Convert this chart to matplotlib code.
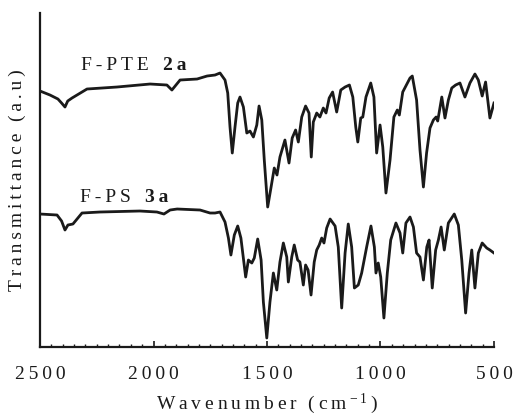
import matplotlib
matplotlib.use('Agg')
import matplotlib.pyplot as plt
from matplotlib.ticker import MultipleLocator, FuncFormatter

plt.rcParams['font.family'] = ['Liberation Serif', 'DejaVu Serif']
plt.rcParams['mathtext.fontset'] = 'custom'
plt.rcParams['mathtext.rm'] = 'Liberation Serif'
plt.rcParams['mathtext.it'] = 'Liberation Serif:italic'
plt.rcParams['mathtext.bf'] = 'Liberation Serif:bold'

SP = '\u2009'  # thin space, the original text is letter-spaced

# F-PTE 2a (upper trace), wavenumber (cm-1) and transmittance (a.u.)
pte_wn = [2500, 2456, 2421, 2405, 2390, 2378, 2359, 2293, 2161, 2015, 1941, 1919,
          1883, 1808, 1764, 1729, 1707, 1685, 1673, 1663, 1653, 1641, 1629, 1619,
          1604, 1589, 1575, 1560, 1545, 1535, 1523, 1512, 1497, 1482, 1468, 1456,
          1443, 1421, 1403, 1389, 1374, 1362, 1347, 1330, 1315, 1305, 1296, 1281,
          1267, 1252, 1240, 1226, 1211, 1193, 1175, 1156, 1137, 1122, 1109, 1100,
          1087, 1078, 1064, 1043, 1029, 1017, 1002, 990, 976, 958, 941, 926, 917,
          902, 870, 860, 841, 826, 811, 797, 782, 767, 755, 748, 730, 716, 701,
          686, 669, 650, 628, 606, 584, 569, 552, 537, 518, 500]
pte_t = [256, 252, 248, 244, 240, 246, 249, 258, 260, 263, 262, 257,
         267, 268, 271, 272, 274, 267, 254, 220, 194, 220, 244, 250,
         240, 214, 216, 210, 222, 241, 227, 187, 140, 160, 179, 172,
         190, 207, 184, 209, 217, 205, 230, 241, 234, 190, 225, 234,
         230, 239, 234, 249, 255, 235, 257, 260, 262, 250, 220, 205,
         229, 230, 250, 264, 250, 194, 222, 200, 154, 187, 230, 237, 232,
         255, 269, 271, 247, 197, 160, 194, 219, 227, 230, 226, 250, 229, 247,
         259, 262, 264, 250, 264, 273, 267, 251, 265, 229, 244]

# F-PS 3a (lower trace)
ps_wn = [2500, 2425, 2405, 2390, 2377, 2355, 2315, 2236, 2060, 1985, 1954, 1927,
         1896, 1795, 1751, 1729, 1707, 1685, 1670, 1659, 1644, 1629, 1615, 1594,
         1582, 1567, 1556, 1541, 1526, 1516, 1501, 1487, 1472, 1457, 1443, 1428,
         1413, 1406, 1391, 1380, 1365, 1355, 1340, 1330, 1319, 1306, 1292, 1281,
         1270, 1259, 1249, 1237, 1222, 1200, 1186, 1171, 1156, 1142, 1127, 1115,
         1098, 1083, 1061, 1042, 1027, 1020, 1010, 999, 985, 970, 955, 932, 914,
         902, 888, 870, 855, 841, 826, 811, 796, 786, 772, 757, 745, 733, 719,
         701, 675, 657, 642, 625, 610, 598, 584, 569, 552, 532, 518, 500]
ps_t = [133, 132, 126, 117, 122, 123, 134, 135, 136, 135, 133, 137,
        138, 137, 134, 134, 135, 125, 109, 92, 112, 121, 109, 70,
        87, 84, 89, 108, 87, 45, 9, 45, 74, 57, 85, 104,
        90, 65, 90, 102, 87, 85, 62, 82, 77, 52, 85, 97,
        102, 109, 104, 119, 128, 121, 100, 39, 94, 123, 100, 59,
        62, 74, 100, 121, 100, 74, 84, 70, 29, 74, 107, 124, 114,
        94, 124, 130, 120, 94, 90, 67, 100, 107, 59, 97, 107, 120, 97,
        124, 133, 122, 87, 34, 74, 97, 59, 94, 104, 99, 97, 94]

fig = plt.figure(figsize=(5.17, 4.2), dpi=100)
ax = fig.add_axes([0.0774, 0.1738, 0.8781, 0.7952])

ax.plot(pte_wn, pte_t, color='#1a1a1a', linewidth=2.0, solid_joinstyle='round')
ax.plot(ps_wn, ps_t, color='#1a1a1a', linewidth=2.0, solid_joinstyle='round')

ax.set_xlim(2500, 500)
ax.set_ylim(0, 334)

# curve labels
ax.text(2319, 277, SP.join('F-PTE'), fontsize=14, color='#1a1a1a')
ax.text(1958, 277, SP.join('2a'), fontsize=14, fontweight='bold', color='#1a1a1a')
ax.text(2324, 145, SP.join('F-PS'), fontsize=14, color='#1a1a1a')
ax.text(2037, 145, SP.join('3a'), fontsize=14, fontweight='bold', color='#1a1a1a')

# axes styling
for side in ['top', 'right']:
    ax.spines[side].set_visible(False)
for side in ['left', 'bottom']:
    ax.spines[side].set_linewidth(1.6)
    ax.spines[side].set_color('#1a1a1a')

ax.set_yticks([])
ax.xaxis.set_major_locator(MultipleLocator(500))
ax.xaxis.set_minor_locator(MultipleLocator(50))
ax.xaxis.set_major_formatter(FuncFormatter(lambda v, p: SP.join(str(int(v)))))
ax.tick_params(axis='x', which='major', direction='in', length=4, width=1.2,
               labelsize=14, pad=14, colors='#1a1a1a')
ax.tick_params(axis='x', which='minor', direction='in', length=2.5, width=1.0,
               colors='#1a1a1a')

ax.set_ylabel(SP.join('Transmittance') + SP * 3 + SP.join('(a.u)'),
              fontsize=14, labelpad=10, color='#1a1a1a')
ax.set_xlabel(SP.join('Wavenumber') + SP * 3 + SP.join('(cm') + r'$^{\,-1}$' + SP + ')',
              fontsize=14, labelpad=6, color='#1a1a1a')

fig.savefig('out.png', dpi=100)
